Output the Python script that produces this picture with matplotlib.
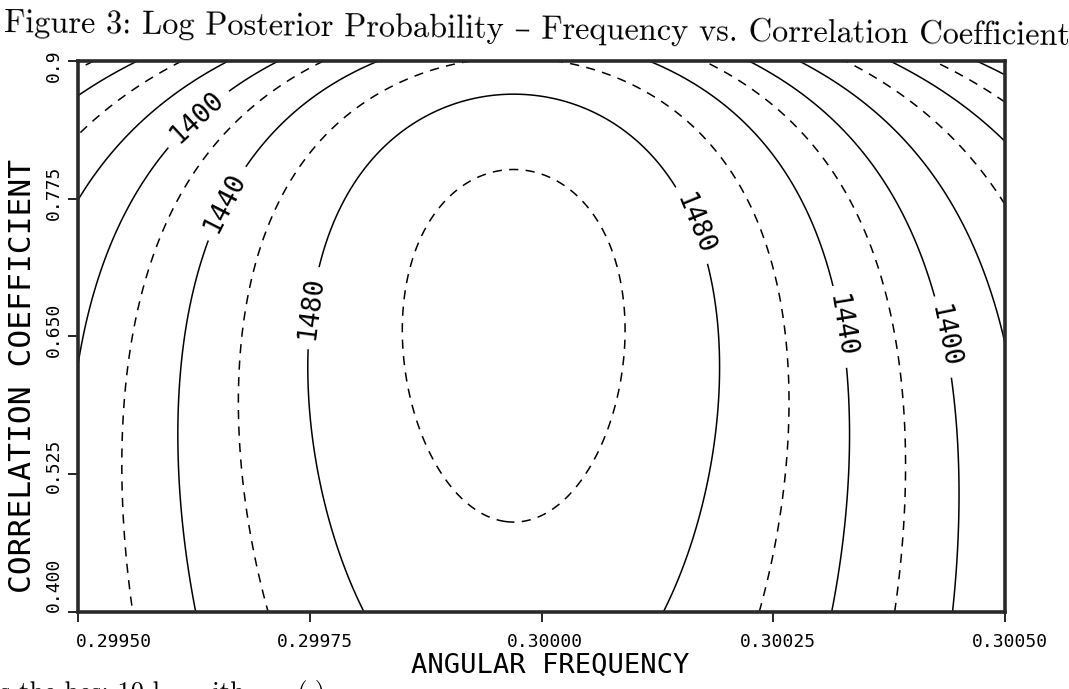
import matplotlib.pyplot as plt
import matplotlib.transforms as mtransforms
import numpy as np

# axis ranges and ticks
omega_lim = [0.2995, 0.3005]
rho_lim = [0.4, 0.9]
x_ticks = [0.2995, 0.29975, 0.3, 0.30025, 0.3005]
x_ticklabels = ["0.29950", "0.29975", "0.30000", "0.30025", "0.30050"]
y_ticks = [0.4, 0.525, 0.65, 0.775, 0.9]
y_ticklabels = ["0.400", "0.525", "0.650", "0.775", "0.9"]

# log posterior surface
peak_logp = 1509.0
omega_peak = 0.29997
z_peak = 0.814         # atanh(rho) at the ridge
z_curv = 107.8         # fall-off along atanh(rho)
log_amp = 266.0        # fall-off along frequency
width_0 = 8.306e-4     # frequency width at atanh(rho) = 0
width_slope = -2.287e-4

solid_levels = [1275, 1325, 1375]
labelled_levels = [1400, 1440, 1480]
dashed_levels = [1250, 1300, 1350, 1420, 1460, 1500]
label_spots = [(0.299626, 0.8508), (0.299664, 0.7692), (0.299754, 0.6757),
               (0.300163, 0.751), (0.30032, 0.6585), (0.300443, 0.6512)]

om = np.linspace(omega_lim[0], omega_lim[1], 500)
rh = np.linspace(rho_lim[0], rho_lim[1], 500)
W, R = np.meshgrid(om, rh)
T = np.arctanh(R)
width = width_0 + width_slope * T
Z = peak_logp - z_curv * (T - z_peak) ** 2 - log_amp * np.log1p(((W - omega_peak) / width) ** 2)

fig = plt.figure(figsize=(10.69, 6.89), dpi=100)
ax = fig.add_axes([78 / 1069, (689 - 612) / 689, (1005 - 78) / 1069, (612 - 61) / 689])

mono = "DejaVu Sans Mono"
ax.contour(W, R, Z, levels=solid_levels, colors="k", linewidths=1.1)
cs = ax.contour(W, R, Z, levels=labelled_levels, colors="k", linewidths=1.1)
ax.contour(W, R, Z, levels=dashed_levels, colors="k", linewidths=1.1,
           linestyles=[(0, (6, 4.8))])
txts = ax.clabel(cs, manual=label_spots, inline=True, inline_spacing=8,
                 fmt="%d", fontsize=19, colors="k")
for t in txts:
    t.set_family(mono)

ax.set_xlim(omega_lim)
ax.set_ylim(rho_lim)
for sp in ax.spines.values():
    sp.set_linewidth(2.6)
    sp.set_color("#2a2a2a")

ax.set_xticks(x_ticks)
ax.set_xticklabels(x_ticklabels, family=mono, fontsize=13)
ax.set_yticks(y_ticks)
ax.set_yticklabels(y_ticklabels, family=mono, fontsize=13, rotation=90, va="center")
ax.tick_params(direction="out", length=7, width=1.2, pad=6)
ax.tick_params(axis="y", pad=4)

# nudge tick labels the way the plotter placed them
dpi_t = fig.dpi_scale_trans
for lab, dx in zip(ax.get_xticklabels(), [-2, 5, 3, 5, 5]):
    lab.set_transform(lab.get_transform() + mtransforms.ScaledTranslation(dx / 100, -3 / 100, dpi_t))
ax.get_xticklabels()[0].set_ha("left")
for lab, dy in zip(ax.get_yticklabels(), [27, 8, 7, 6, -5]):
    lab.set_transform(lab.get_transform() + mtransforms.ScaledTranslation(0, dy / 100, dpi_t))

ax.set_xlabel("ANGULAR FREQUENCY", family=mono, fontsize=19.5)
ax.xaxis.set_label_coords(0.509, -0.075)
ax.set_ylabel("CORRELATION COEFFICIENT", family=mono, fontsize=22.5)
ax.yaxis.set_label_coords(-0.044, 0.428)

fig.text(0.004, 0.988,
         "Figure 3: Log Posterior Probability \u2013 Frequency vs. Correlation Coefficient",
         family=["cmr10", "DejaVu Serif"], fontsize=23.3, va="top", ha="left", rotation=-0.7)
fig.text(0.0, 0.013, "s the bes: 10 l      ith      (.)",
         family=["cmr10", "DejaVu Serif"], fontsize=19, va="top", ha="left")

fig.savefig("out.png", dpi=100)
